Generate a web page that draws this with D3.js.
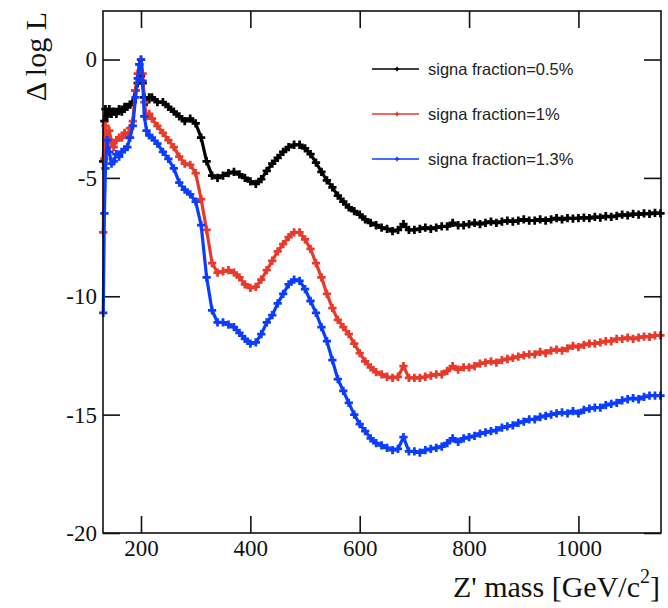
<!DOCTYPE html>
<html>
<head>
<meta charset="utf-8">
<script src="https://cdn.jsdelivr.net/npm/d3@7"></script>
<style>
  body { margin: 0; background: #fff; }
  svg { display: block; }
  .tick text { font-family: "Liberation Serif", "Times New Roman", serif; font-size: 23px; fill: #111; }
  .tick line { stroke: #111; stroke-width: 1.6; }
</style>
</head>
<body>
<svg id="chart" width="668" height="608"></svg>
<script>
// Z' mass points (GeV/c^2)
const massPoints = [131, 133, 135, 138, 142, 146, 150, 155, 160, 165, 170, 175, 180, 185, 190, 194, 197, 200, 203, 206, 210, 215, 220,
  230, 240, 250, 260, 270, 280, 290, 300, 310, 320, 330, 340, 350, 360, 370, 380, 390, 400, 410, 420, 430, 440, 450, 460, 470, 480, 490,
  500, 510, 520, 530, 540, 550, 560, 570, 580, 590, 600, 610, 620, 630, 640, 650, 660, 670, 680, 690, 700, 710, 720, 730, 740, 750,
  760, 770, 780, 790, 800, 810, 820, 830, 840, 850, 860, 870, 880, 890, 900, 910, 920, 930, 940, 950, 960, 970, 980, 990, 1000,
  1010, 1020, 1030, 1040, 1050, 1060, 1070, 1080, 1090, 1100, 1110, 1120, 1130, 1140, 1150];

// delta log L, signal fraction 0.5%
const frac05 = [-4.3, -2.6, -2.1, -2.4, -2.1, -2.3, -2.2, -2.3, -2.1, -2.2, -2.0, -2.0, -1.9, -1.8, -1.3, -1.0, -0.8, -0.7, -1.0, -1.6, -1.8, -1.6, -1.6,
  -1.8, -1.8, -2.0, -2.2, -2.4, -2.6, -2.5, -2.7, -3.3, -4.3, -4.9, -5.0, -4.9, -4.8, -4.75, -4.85, -5.0, -5.15, -5.25, -5.05, -4.7, -4.4, -4.15, -3.9, -3.7, -3.6, -3.6,
  -3.75, -4.0, -4.35, -4.75, -5.1, -5.4, -5.75, -6.0, -6.25, -6.4, -6.55, -6.75, -6.9, -7.0, -7.1, -7.15, -7.25, -7.2, -6.95, -7.2, -7.2, -7.15, -7.1, -7.15, -7.1, -7.05,
  -7.05, -6.9, -7.0, -7.0, -6.95, -6.9, -6.95, -6.9, -6.85, -6.9, -6.85, -6.8, -6.85, -6.8, -6.75, -6.8, -6.8, -6.75, -6.8, -6.75, -6.7, -6.75, -6.7, -6.72, -6.7,
  -6.68, -6.7, -6.65, -6.68, -6.62, -6.65, -6.6, -6.55, -6.58, -6.52, -6.55, -6.5, -6.52, -6.48, -6.5];

// delta log L, signal fraction 1%
const frac1 = [-7.3, -4.2, -2.8, -3.3, -3.0, -3.5, -3.7, -3.4, -3.3, -3.3, -3.1, -3.2, -2.9, -2.6, -1.3, -0.6, -0.2, 0.0, -0.6, -1.8, -2.4, -2.3, -2.5,
  -2.8, -3.1, -3.4, -3.7, -4.1, -4.4, -4.45, -4.8, -5.9, -7.2, -8.6, -9.0, -8.95, -8.9, -9.0, -9.2, -9.5, -9.65, -9.6, -9.3, -8.9, -8.5, -8.1, -7.8, -7.5, -7.3, -7.3,
  -7.6, -8.0, -8.6, -9.2, -9.9, -10.5, -11.0, -11.3, -11.6, -12.0, -12.4, -12.75, -13.0, -13.2, -13.3, -13.4, -13.45, -13.4, -12.95, -13.45, -13.45, -13.45, -13.4, -13.35, -13.3, -13.3,
  -13.15, -12.95, -13.1, -13.0, -13.0, -12.95, -12.85, -12.8, -12.75, -12.8, -12.7, -12.65, -12.6, -12.55, -12.5, -12.45, -12.45, -12.35, -12.4, -12.3, -12.25, -12.3, -12.2, -12.1, -12.15,
  -12.05, -12.0, -12.0, -11.95, -11.9, -11.9, -11.8, -11.8, -11.75, -11.8, -11.75, -11.7, -11.72, -11.65, -11.65];

// delta log L, signal fraction 1.3%
const frac13 = [-10.7, -6.5, -4.6, -3.4, -3.9, -4.4, -4.3, -4.0, -4.1, -3.9, -3.8, -3.7, -3.3, -2.8, -1.6, -0.8, -0.2, 0.0, -0.9, -2.4, -3.0, -3.2, -3.3,
  -3.55, -3.9, -4.2, -4.6, -5.2, -5.5, -5.7, -6.0, -7.0, -9.2, -10.6, -11.1, -11.1, -11.2, -11.3, -11.55, -11.8, -12.0, -11.95, -11.6, -11.1, -10.8, -10.3, -9.9, -9.5, -9.3, -9.35,
  -9.7, -10.2, -10.7, -11.3, -11.9, -12.7, -13.5, -14.0, -14.5, -15.0, -15.4, -15.7, -16.0, -16.2, -16.3, -16.4, -16.5, -16.45, -15.95, -16.55, -16.55, -16.6, -16.5, -16.45, -16.4, -16.35,
  -16.2, -16.0, -16.15, -16.0, -15.95, -15.9, -15.8, -15.75, -15.7, -15.65, -15.55, -15.5, -15.45, -15.35, -15.3, -15.2, -15.2, -15.1, -15.05, -15.0, -14.95, -14.9, -14.95, -14.85, -14.95,
  -14.8, -14.75, -14.7, -14.7, -14.6, -14.55, -14.5, -14.4, -14.35, -14.3, -14.35, -14.25, -14.2, -14.2, -14.2];

const seriesNames = ["signa fraction=0.5%", "signa fraction=1%", "signa fraction=1.3%"];
const seriesColors = ["#000000", "#e8392b", "#0a3dff"];
const xTicks = [200, 400, 600, 800, 1000];
const yTicks = [-20, -15, -10, -5, 0];

const svg = d3.select("#chart");
const plotLeft = 103, plotRight = 661, plotTop = 11, plotBottom = 533;

const x = d3.scaleLinear().domain([130.5, 1151]).range([plotLeft, plotRight]);
const y = d3.scaleLinear().domain([-20, 2.05]).range([plotBottom, plotTop]);
const plainNum = d => String(d);

// axes, ticks pointing inward on all four sides
svg.append("g")
  .attr("transform", "translate(0," + plotBottom + ")")
  .call(d3.axisBottom(x).tickValues(xTicks).tickFormat(plainNum).tickSizeInner(-17).tickSizeOuter(0).tickPadding(7))
  .call(g => g.select(".domain").remove());
svg.append("g")
  .attr("transform", "translate(0," + plotTop + ")")
  .call(d3.axisTop(x).tickValues(xTicks).tickSizeInner(-17).tickSizeOuter(0).tickFormat(""))
  .call(g => g.select(".domain").remove());
svg.append("g")
  .attr("transform", "translate(" + plotLeft + ",0)")
  .call(d3.axisLeft(y).tickValues(yTicks).tickFormat(plainNum).tickSizeInner(-17).tickSizeOuter(0).tickPadding(6))
  .call(g => g.select(".domain").remove());
svg.append("g")
  .attr("transform", "translate(" + plotRight + ",0)")
  .call(d3.axisRight(y).tickValues(yTicks).tickSizeInner(-17).tickSizeOuter(0).tickFormat(""))
  .call(g => g.select(".domain").remove());

svg.selectAll("g").attr("font-family", null).attr("font-size", null);

// series
const allSeries = [frac05, frac1, frac13];
const line = d3.line()
  .x((d, i) => x(massPoints[i]))
  .y(d => y(d));
const cross = d3.symbol().type(d3.symbolCross).size(38);

allSeries.forEach((vals, k) => {
  const g = svg.append("g");
  g.append("path")
    .datum(vals)
    .attr("fill", "none")
    .attr("stroke", seriesColors[k])
    .attr("stroke-width", 3.2)
    .attr("stroke-linejoin", "round")
    .attr("d", line);
  g.selectAll("path.pt")
    .data(vals)
    .join("path")
    .attr("class", "pt")
    .attr("transform", (d, i) => "translate(" + x(massPoints[i]) + "," + y(d) + ")")
    .attr("d", cross)
    .attr("fill", seriesColors[k]);
});

// frame
svg.append("rect")
  .attr("x", plotLeft).attr("y", plotTop)
  .attr("width", plotRight - plotLeft).attr("height", plotBottom - plotTop)
  .attr("fill", "none").attr("stroke", "#111").attr("stroke-width", 1.6);

// legend
const legendY = [69, 114, 159];
seriesNames.forEach((name, k) => {
  const g = svg.append("g").attr("transform", "translate(0," + legendY[k] + ")");
  g.append("line").attr("x1", 372).attr("x2", 419).attr("y1", 0).attr("y2", 0)
    .attr("stroke", seriesColors[k]).attr("stroke-width", 1.5);
  g.append("path").attr("transform", "translate(397,0)")
    .attr("d", d3.symbol().type(d3.symbolCross).size(12)).attr("fill", seriesColors[k]);
  g.append("text").attr("x", 428).attr("y", 0).attr("dy", "0.35em")
    .attr("font-family", "'Liberation Sans', Arial, sans-serif").attr("font-size", 16.5)
    .attr("fill", "#222").text(name);
});

// axis titles
const xTitle = svg.append("text")
  .attr("x", 660).attr("y", 597)
  .attr("text-anchor", "end")
  .attr("font-family", "'Liberation Serif', 'Times New Roman', serif")
  .attr("font-size", 30).attr("fill", "#111");
xTitle.append("tspan").text("Z' mass [GeV/c");
xTitle.append("tspan").attr("font-size", 20).attr("dy", -14).text("2");
xTitle.append("tspan").attr("dy", 14).text("]");

svg.append("text")
  .attr("transform", "translate(46,12) rotate(-90)")
  .attr("text-anchor", "end")
  .attr("font-family", "'Liberation Serif', 'Times New Roman', serif")
  .attr("font-size", 30).attr("fill", "#111")
  .text("Δ log L");
</script>
</body>
</html>
